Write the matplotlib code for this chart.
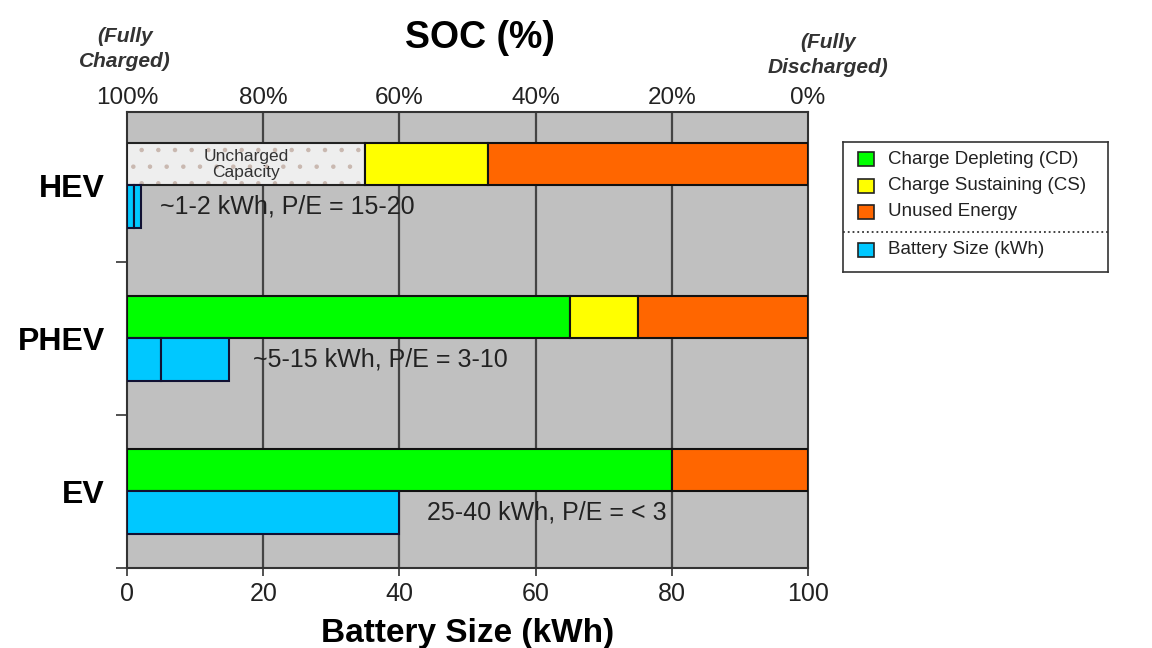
import matplotlib
matplotlib.use("Agg")
import matplotlib.pyplot as plt
from matplotlib.patches import Rectangle
from matplotlib.lines import Line2D

plt.rcParams['font.family'] = ['Liberation Sans', 'DejaVu Sans']
plt.rcParams['hatch.linewidth'] = 0.8

# ---- data ----
categories = ['HEV', 'PHEV', 'EV']
uncharged = [35, 0, 0]          # kWh-axis span of uncharged capacity
cd_energy = [0, 65, 80]         # charge depleting
cs_energy = [18, 10, 0]         # charge sustaining
unused_energy = [47, 25, 20]    # unused energy
battery_segments = [[1, 1], [5, 10], [40]]   # stacked battery size pieces (kWh)
annotations = ['~1-2 kWh, P/E = 15-20', '~5-15 kWh, P/E = 3-10', '25-40 kWh, P/E = < 3']
annot_x = [4.9, 18.5, 44]
kwh_ticks = [0, 20, 40, 60, 80, 100]
soc_labels = ['100%', '80%', '60%', '40%', '20%', '0%']

c_cd = '#00ff00'
c_cs = '#ffff00'
c_unused = '#ff6600'
c_batt = '#00c8ff'
c_unch = '#eeeeee'

fig = plt.figure(figsize=(11.52, 6.48), dpi=100)
ax = fig.add_axes([127/1152, 1-568/648, 681/1152, 456/648])
ax.set_facecolor('#c0c0c0')

ypos = [2, 1, 0]
h_top = 0.275
h_bat = 0.28
for i, cat in enumerate(categories):
    yc = ypos[i]
    left = 0
    if uncharged[i]:
        ax.barh(yc, uncharged[i], height=h_top, left=left, align='edge',
                color=c_unch, edgecolor='#c9b8b0', linewidth=0, hatch='.', zorder=3)
        ax.barh(yc, uncharged[i], height=h_top, left=left, align='edge',
                fill=False, edgecolor='#222222', linewidth=1.5, zorder=3)
        ax.text(left + uncharged[i]/2, yc + h_top/2, 'Uncharged\nCapacity', ha='center', va='center',
                fontsize=12.5, color='#333333', linespacing=1.15, zorder=4)
        left += uncharged[i]
    for val, col in [(cd_energy[i], c_cd), (cs_energy[i], c_cs), (unused_energy[i], c_unused)]:
        if val:
            ax.barh(yc, val, height=h_top, left=left, align='edge',
                    color=col, edgecolor='#111111', linewidth=1.5, zorder=3)
            left += val
    bl = 0
    for seg in battery_segments[i]:
        ax.barh(yc - h_bat, seg, height=h_bat, left=bl, align='edge',
                color=c_batt, edgecolor='#111133', linewidth=1.5, zorder=3)
        bl += seg
    ax.text(annot_x[i], yc - h_bat/2, annotations[i], ha='left', va='center',
            fontsize=18, color='#222222', zorder=5)

ax.set_xlim(0, 100)
ax.set_ylim(-0.49, 2.48)
ax.set_xticks(kwh_ticks)
ax.set_xticklabels([str(t) for t in kwh_ticks], fontsize=18, color='#222222')
ax.tick_params(axis='x', direction='out', length=6, width=1.2, pad=4, color='#333333')
ax.set_yticks(ypos)
ax.set_yticklabels(categories, fontsize=23, fontweight='bold')
ax.tick_params(axis='y', length=0, pad=16)
ax.set_yticks([-0.5, 0.5, 1.5], minor=True)
ax.tick_params(axis='y', which='minor', length=8, width=1.2, color='#333333', direction='out')
for g in [20, 40, 60, 80]:
    ax.axvline(g, color='#444444', linewidth=1.6, zorder=1)
for sp in ax.spines.values():
    sp.set_color('#333333')
    sp.set_linewidth(1.5)
ax.set_xlabel('Battery Size (kWh)', fontsize=24, fontweight='bold', labelpad=9)

ax2 = ax.twiny()
ax2.set_xlim(0, 100)
ax2.set_xticks(kwh_ticks)
ax2.set_xticklabels(soc_labels, fontsize=17.5, color='#222222')
ax2.tick_params(axis='x', length=0, pad=2)
for sp in ax2.spines.values():
    sp.set_visible(False)

fig.text(480/1152, 1-38/648, 'SOC (%)', ha='center', va='center', fontsize=27, fontweight='bold')
fig.text(125/1152, 1-49/648, '(Fully\nCharged)', ha='center', va='center', fontsize=15,
         fontweight='bold', style='italic', color='#333333', linespacing=1.35)
fig.text(828/1152, 1-55/648, '(Fully\nDischarged)', ha='center', va='center', fontsize=15,
         fontweight='bold', style='italic', color='#333333', linespacing=1.35)

# ---- legend ----
lax = fig.add_axes([843/1152, 1-272/648, 265/1152, 130/648])
lax.set_xlim(0, 265)
lax.set_ylim(130, 0)
lax.set_xticks([])
lax.set_yticks([])
for sp in lax.spines.values():
    sp.set_color('#333333')
    sp.set_linewidth(1.2)
leg_items = [('Charge Depleting (CD)', c_cd, 17), ('Charge Sustaining (CS)', c_cs, 44),
             ('Unused Energy', c_unused, 70), ('Battery Size (kWh)', c_batt, 108)]
for label, col, yy in leg_items:
    lax.add_patch(Rectangle((15, yy - 7), 16, 14, facecolor=col, edgecolor='#222222', linewidth=1.2))
    lax.text(45, yy, label, va='center', ha='left', fontsize=13.5, color='#222222')
lax.add_line(Line2D([0, 265], [90, 90], color='#333333', linestyle=':', linewidth=1.3))

fig.savefig('out.png', dpi=100)
